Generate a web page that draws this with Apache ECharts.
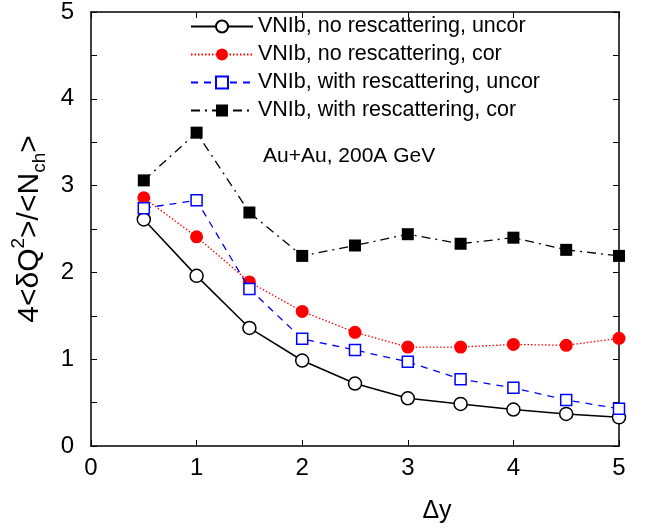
<!DOCTYPE html>
<html>
<head>
<meta charset="utf-8">
<script src="https://cdn.jsdelivr.net/npm/echarts@6/dist/echarts.min.js"></script>
<style>html,body{margin:0;padding:0;background:#fff}#c{width:647px;height:529px}</style>
</head>
<body>
<div id="c"></div>
<script>
const dy = [0.5, 1, 1.5, 2, 2.5, 3, 3.5, 4, 4.5, 5];
const noResUncor = [2.61, 1.96, 1.36, 0.985, 0.72, 0.55, 0.485, 0.42, 0.37, 0.33];
const noResCor = [2.86, 2.41, 1.89, 1.55, 1.31, 1.14, 1.14, 1.17, 1.16, 1.24];
const resUncor = [2.74, 2.83, 1.81, 1.235, 1.105, 0.97, 0.77, 0.67, 0.53, 0.43];
const resCor = [3.06, 3.61, 2.69, 2.19, 2.31, 2.44, 2.33, 2.40, 2.26, 2.19];
const names = ['VNIb, no rescattering, uncor', 'VNIb, no rescattering, cor', 'VNIb, with rescattering, uncor', 'VNIb, with rescattering, cor'];

const pair = arr => dy.map((x, i) => [x, arr[i]]);
const FONT = 'Liberation Sans, Arial, sans-serif';

const chart = echarts.init(document.getElementById('c'));
const axisLine = {show: true, onZero: false, lineStyle: {color: '#000', width: 1.5}};
const tick = {inside: true, length: 6, lineStyle: {color: '#000', width: 1}};
chart.setOption({
  animation: false,
  backgroundColor: '#fff',
  grid: {left: 91, right: 28, top: 8, bottom: 81},
  legend: {
    orient: 'vertical', left: 190, top: 15, padding: 0,
    itemWidth: 62, itemHeight: 15, itemGap: 5, itemTextGap: 6,
    textStyle: {fontFamily: FONT, fontSize: 21.5, color: '#000', lineHeight: 23},
    data: names
  },
  xAxis: [{
    type: 'value', min: 0, max: 5, interval: 1,
    name: 'Δy', nameLocation: 'middle', nameGap: 53,
    nameTextStyle: {fontFamily: FONT, fontSize: 25, color: '#000', padding: [0, 0, 0, 164]},
    axisLine: axisLine, axisTick: tick,
    axisLabel: {fontFamily: FONT, fontSize: 24, color: '#000', margin: 10},
    splitLine: {show: false}
  }, {
    type: 'value', min: 0, max: 5, interval: 1, position: 'top',
    axisLine: axisLine, axisTick: tick,
    axisLabel: {show: false}, splitLine: {show: false}
  }],
  yAxis: [{
    type: 'value', min: 0, max: 5, interval: 1,
    name: '{n|4<δQ}{sup|2}{n|>/<N}{sub|ch}{n|>}', nameLocation: 'middle', nameGap: 26,
    nameTextStyle: {
      fontFamily: FONT, color: '#000',
      rich: {
        n: {fontFamily: FONT, fontSize: 30, color: '#000', lineHeight: 40, verticalAlign: 'middle'},
        sup: {fontFamily: FONT, fontSize: 19, color: '#000', lineHeight: 40, verticalAlign: 'top'},
        sub: {fontFamily: FONT, fontSize: 19, color: '#000', lineHeight: 40, verticalAlign: 'bottom'}
      }
    },
    axisLine: axisLine, axisTick: tick,
    minorTick: {show: true, splitNumber: 2, length: 6, lineStyle: {color: '#000', width: 1}},
    axisLabel: {fontFamily: FONT, fontSize: 24, color: '#000', margin: 17},
    splitLine: {show: false}, minorSplitLine: {show: false}
  }, {
    type: 'value', min: 0, max: 5, interval: 1, position: 'right',
    axisLine: axisLine, axisTick: tick,
    minorTick: {show: true, splitNumber: 2, length: 6, lineStyle: {color: '#000', width: 1}},
    axisLabel: {show: false}, splitLine: {show: false}, minorSplitLine: {show: false}
  }],
  series: [{
    name: names[0], type: 'line', data: pair(noResUncor),
    symbol: 'circle', symbolSize: 13, showAllSymbol: true,
    lineStyle: {color: '#000', width: 1.5, type: 'solid'},
    itemStyle: {color: '#fff', borderColor: '#000', borderWidth: 1.5},
    z: 2
  }, {
    name: names[1], type: 'line', data: pair(noResCor),
    symbol: 'circle', symbolSize: 13,
    lineStyle: {color: '#ff0000', width: 1.3, type: [1.5, 2]},
    itemStyle: {color: '#ff0000', borderColor: '#ff0000', borderWidth: 0},
    z: 3
  }, {
    name: names[2], type: 'line', data: pair(resUncor),
    symbol: 'rect', symbolSize: 11,
    lineStyle: {color: '#0000ff', width: 1.3, type: [7, 6]},
    itemStyle: {color: '#fff', borderColor: '#0000ff', borderWidth: 1.5},
    z: 4
  }, {
    name: names[3], type: 'line', data: pair(resCor),
    symbol: 'rect', symbolSize: 12,
    lineStyle: {color: '#000', width: 1.3, type: [9, 5, 2, 5]},
    itemStyle: {color: '#000', borderColor: '#000', borderWidth: 0},
    z: 5
  }],
  graphic: [{
    type: 'text', left: 263, top: 146,
    style: {text: 'Au+Au, 200A GeV', font: '21px ' + FONT, fill: '#000'}
  }]
});
</script>
</body>
</html>
